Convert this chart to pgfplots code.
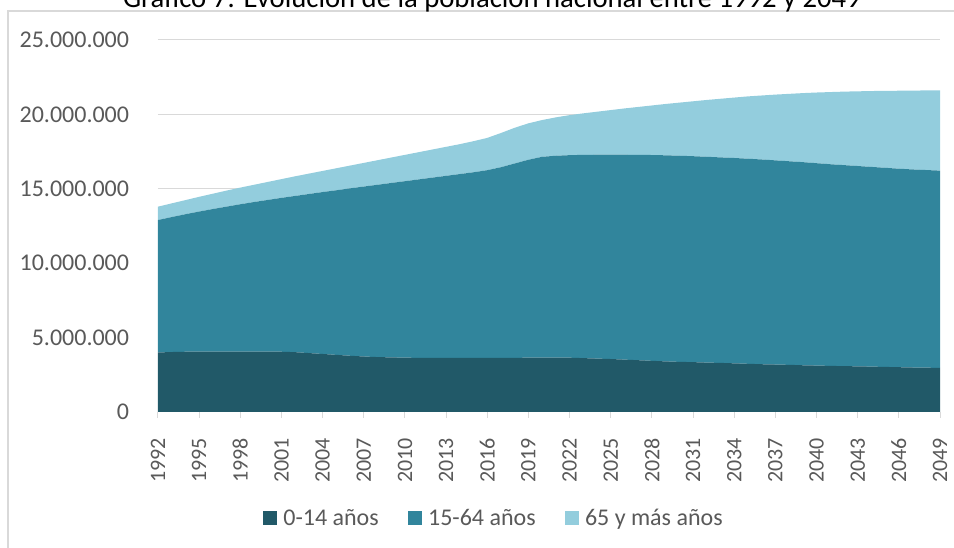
\documentclass[border=0pt]{standalone}
\usepackage{pgfplots}
\pgfplotsset{compat=1.18}
\usepackage{pgfplotstable}
\usepackage{fontspec}
\setmainfont{Carlito}
\definecolor{c1}{HTML}{215968}
\definecolor{c2}{HTML}{31859C}
\definecolor{c3}{HTML}{93CDDD}
\definecolor{gridc}{HTML}{D9D9D9}
\definecolor{txt}{HTML}{595959}
% population in millions
\pgfplotstableread{
year a b c
1992 4.00 8.90 0.90
1993 4.03 9.07 0.92
1994 4.05 9.24 0.95
1995 4.06 9.41 0.99
1996 4.06 9.58 1.03
1997 4.06 9.74 1.08
1998 4.06 9.90 1.12
1999 4.06 10.05 1.16
2000 4.06 10.19 1.21
2001 4.05 10.34 1.26
2002 4.02 10.50 1.32
2003 3.96 10.69 1.37
2004 3.90 10.88 1.42
2005 3.84 11.06 1.48
2006 3.78 11.25 1.53
2007 3.73 11.42 1.59
2008 3.69 11.58 1.65
2009 3.67 11.72 1.71
2010 3.65 11.86 1.77
2011 3.64 11.99 1.83
2012 3.63 12.12 1.89
2013 3.63 12.24 1.95
2014 3.63 12.36 2.01
2015 3.63 12.48 2.09
2016 3.63 12.62 2.17
2017 3.63 12.82 2.30
2018 3.64 13.06 2.40
2019 3.65 13.30 2.45
2020 3.66 13.49 2.47
2021 3.66 13.56 2.58
2022 3.65 13.61 2.69
2023 3.62 13.66 2.79
2024 3.59 13.70 2.89
2025 3.56 13.73 3.00
2026 3.52 13.77 3.11
2027 3.48 13.80 3.22
2028 3.44 13.83 3.33
2029 3.40 13.85 3.45
2030 3.37 13.85 3.57
2031 3.35 13.84 3.69
2032 3.32 13.83 3.82
2033 3.30 13.81 3.94
2034 3.27 13.80 4.06
2035 3.24 13.78 4.19
2036 3.21 13.76 4.30
2037 3.19 13.72 4.42
2038 3.17 13.68 4.53
2039 3.14 13.65 4.64
2040 3.12 13.60 4.75
2041 3.10 13.55 4.85
2042 3.08 13.51 4.94
2043 3.07 13.46 5.02
2044 3.05 13.42 5.10
2045 3.03 13.38 5.17
2046 3.01 13.34 5.24
2047 2.99 13.31 5.30
2048 2.98 13.28 5.35
2049 2.96 13.26 5.40
}\data

\begin{document}
\begin{tikzpicture}
\useasboundingbox (-118.5pt,-102pt) rectangle (597pt,309pt);
\clip (-118.5pt,-102pt) rectangle (597pt,309pt);
\draw[gridc, line width=1.1pt] (-112.5pt,-200pt) rectangle (700pt,300.75pt);
\node[anchor=base, font=\fontsize{21.5}{26}\selectfont, text=black, inner sep=0pt] at (250.5pt,303pt) {Gráfico 7: Evolución de la población nacional entre 1992 y 2049};
\begin{axis}[
 at={(0pt,0pt)}, anchor=south west,
 scale only axis, width=586.5pt, height=279pt,
 xmin=1992, xmax=2049, ymin=0, ymax=25,
 stack plots=y,
 axis lines*=left,
 x axis line style={gridc, line width=0.75pt},
 y axis line style={draw=none},
 ytick={0,5,...,25},
 yticklabels={0,5.000.000,10.000.000,15.000.000,20.000.000,25.000.000},
 ymajorgrids, grid style={gridc, line width=0.75pt},
 ytick style={draw=none},
 xtick={1992,1995,...,2049},
 xticklabels={1992,1995,1998,2001,2004,2007,2010,2013,2016,2019,2022,2025,2028,2031,2034,2037,2040,2043,2046,2049},
 minor x tick num=2,
 xtick style={gridc, line width=0.75pt},
 tick align=outside,
 major tick length=4.5pt, minor tick length=4.5pt,
 xticklabel style={rotate=90, anchor=east, inner sep=0pt, text=txt, font=\fontsize{16.5}{18}\selectfont},
 yticklabel style={inner sep=0pt, text=txt, font=\fontsize{18}{20}\selectfont},
 xticklabel shift=15pt,
 yticklabel shift=17pt,
 legend style={at={(0.4284,-0.285)}, anchor=center, draw=none, fill=none,
   font=\fontsize{18}{20}\selectfont, text=txt,
   nodes={inner sep=0pt},
   /tikz/every odd column/.append style={column sep=4.5pt},
   /tikz/every even column/.append style={column sep=22pt}},
 legend columns=3,
 legend cell align=left,
 legend image code/.code={\fill[#1] (0pt,-5.25pt) rectangle (10.5pt,5.25pt);},
]
\addplot[fill=c1, draw=none] table[x=year, y=a] {\data} \closedcycle;
\addlegendentry{0-14 años}
\addplot[fill=c2, draw=none] table[x=year, y=b] {\data} \closedcycle;
\addlegendentry{15-64 años}
\addplot[fill=c3, draw=none] table[x=year, y=c] {\data} \closedcycle;
\addlegendentry{65 y más años}
\end{axis}
\end{tikzpicture}
\end{document}
